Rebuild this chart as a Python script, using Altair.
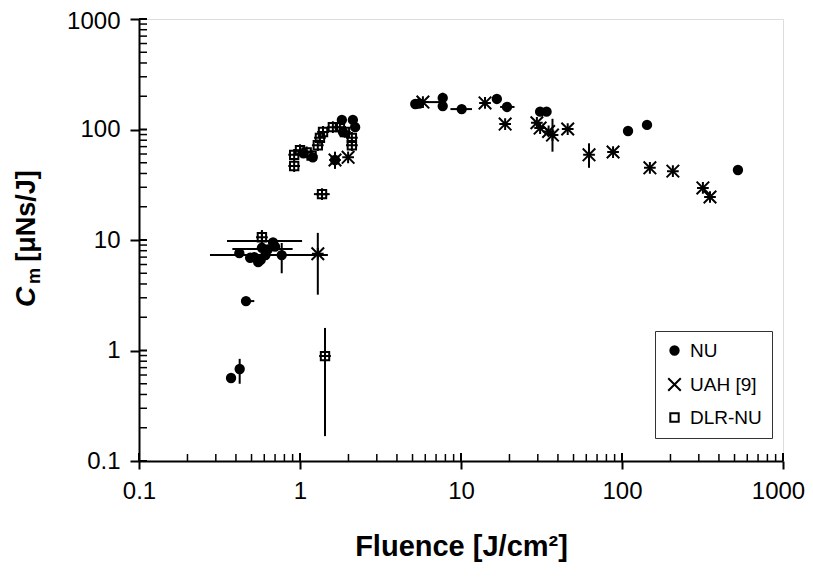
import altair as alt
import pandas as pd

# ---------------- data ----------------
series_names = ["NU", "UAH [9]", "DLR-NU"]

nu_x = [0.373, 0.422, 0.462, 0.42, 0.49, 0.52, 0.55, 0.57, 0.58, 0.61, 0.63, 0.68, 0.70, 0.77,
        1.05, 1.2, 1.65, 1.82, 2.13, 2.2, 1.85,
        5.2, 5.5, 7.7, 7.7, 10.1, 16.7, 19.3, 31, 34, 109, 143, 525]
nu_y = [0.564, 0.68, 2.8, 7.6, 6.9, 7.0, 6.3, 6.6, 8.5, 7.3, 8.2, 9.5, 8.7, 7.3,
        61, 56, 53, 122, 122, 105, 95,
        170, 172, 193, 163, 153, 189, 160, 145, 145, 97, 110, 43]

uah_x = [1.29, 1.65, 1.99, 5.8, 14.1, 18.8, 29.6, 31, 35, 37, 46, 62.4, 88, 149, 207, 318, 352]
uah_y = [7.5, 53, 56, 177, 174, 112, 115, 103, 96, 89, 101, 59, 62.5, 45, 42, 29.6, 24.5]

dlr_x = [0.58, 0.92, 0.92, 1.0, 1.1, 1.18, 1.29, 1.33, 1.39, 1.6, 1.77, 1.9, 2.1, 2.1, 1.37, 1.43]
dlr_y = [10.6, 46.7, 59, 65, 62, 58, 72, 84, 95, 105, 105, 95, 84, 72, 26, 0.89]

# vertical error bars: x, low, high
vbar_x = [0.422, 0.77, 1.29, 1.43, 1.65, 7.7, 37, 62.4, 0.58]
vbar_lo = [0.50, 5.0, 3.2, 0.168, 44, 150, 63, 45, 9.6]
vbar_hi = [0.84, 9.4, 11.6, 1.6, 63, 215, 125, 75, 12.3]

# horizontal error bars: y, low, high
hbar_y = [9.8, 8.3, 7.3, 2.8, 26, 177, 153, 160]
hbar_lo = [0.352, 0.38, 0.276, 0.43, 1.22, 5.8, 8.6, 17.5]
hbar_hi = [1.03, 0.90, 1.49, 0.52, 1.53, 7.6, 11.7, 21.5]

major_ticks = [0.1, 1, 10, 100, 1000]
minor_ticks = [0.2, 0.3, 0.4, 0.5, 0.6, 0.7, 0.8, 0.9,
               2, 3, 4, 5, 6, 7, 8, 9,
               20, 30, 40, 50, 60, 70, 80, 90,
               200, 300, 400, 500, 600, 700, 800, 900]

# ---------------- tables ----------------
pts = pd.DataFrame({
    "x": nu_x + uah_x + dlr_x,
    "y": nu_y + uah_y + dlr_y,
    "series": ["NU"] * len(nu_x) + ["UAH [9]"] * len(uah_x) + ["DLR-NU"] * len(dlr_x),
})
vbars = pd.DataFrame({"x": vbar_x, "lo": vbar_lo, "hi": vbar_hi})
hbars = pd.DataFrame({"y": hbar_y, "lo": hbar_lo, "hi": hbar_hi})
majors = pd.DataFrame({"v": major_ticks})
minors = pd.DataFrame({"v": minor_ticks})

W, H = 644, 442
FONT = "Liberation Sans"

xs = alt.Scale(type="log", domain=[0.1, 1000], nice=False)
ys = alt.Scale(type="log", domain=[0.1, 1000], nice=False)

x_axis = alt.Axis(values=major_ticks, format="~g", title="Fluence [J/cm²]",
                  titleFontSize=29, titleFont=FONT, titleFontWeight="bold",
                  titleColor="black", titlePadding=29,
                  labelFontSize=24, labelFont=FONT, labelColor="black", labelPadding=10,
                  labelOffset={"condition": {"test": "datum.value >= 1000", "value": -5}, "value": 0},
                  tickSize=8, tickWidth=2, tickColor="black",
                  domainColor="black", domainWidth=2, grid=False, labelFlush=False)
y_axis = alt.Axis(values=major_ticks, format="~g", title=None,
                  labelFontSize=24, labelFont=FONT, labelColor="black", labelPadding=10,
                  labelOffset={"condition": {"test": "datum.value >= 1000", "value": 2}, "value": 0},
                  tickSize=9, tickWidth=2, tickColor="black",
                  domainColor="black", domainWidth=2, grid=False, labelFlush=False)

shape_scale = alt.Scale(domain=series_names,
                        range=["circle", "M-1.5,-1.5L1.5,1.5M-1.5,1.5L1.5,-1.5", "square"])
fill_scale = alt.Scale(domain=series_names, range=["black", "transparent", "transparent"])
stroke_scale = alt.Scale(domain=series_names, range=["black", "black", "black"])
legend = alt.Legend(title=None, orient="none", legendX=516, legendY=312,
                    labelFontSize=19, labelFont=FONT, labelColor="black",
                    strokeColor="#333333", fillColor="white", padding=10,
                    rowPadding=13, symbolStrokeColor="black", symbolStrokeWidth=2,
                    symbolSize=70, labelOffset=6, cornerRadius=0)

points = alt.Chart(pts).mark_point(size=70, strokeWidth=2, opacity=1).encode(
    x=alt.X("x:Q", scale=xs, axis=x_axis),
    y=alt.Y("y:Q", scale=ys, axis=y_axis),
    shape=alt.Shape("series:N", scale=shape_scale, legend=legend),
    fill=alt.Fill("series:N", scale=fill_scale, legend=legend),
    stroke=alt.Stroke("series:N", scale=stroke_scale, legend=legend),
)

plus = alt.Chart(pts).transform_filter(
    alt.datum.series != "NU"
).mark_point(shape="M0,-1.4L0,1.4M-1.4,0L1.4,0", size=70, strokeWidth=2,
             stroke="black", filled=False, opacity=1).encode(
    x=alt.X("x:Q", scale=xs),
    y=alt.Y("y:Q", scale=ys),
)

vrules = alt.Chart(vbars).mark_rule(color="black", strokeWidth=2).encode(
    x=alt.X("x:Q", scale=xs), y=alt.Y("lo:Q", scale=ys), y2="hi:Q")
hrules = alt.Chart(hbars).mark_rule(color="black", strokeWidth=2).encode(
    y=alt.Y("y:Q", scale=ys), x=alt.X("lo:Q", scale=xs), x2="hi:Q")

# inner parts of the ticks
x_major_in = alt.Chart(majors).mark_rule(color="black", strokeWidth=2).encode(
    x=alt.X("v:Q", scale=xs), y=alt.value(H), y2=alt.value(H - 8))
x_minor_in = alt.Chart(minors).mark_rule(color="black", strokeWidth=1.5).encode(
    x=alt.X("v:Q", scale=xs), y=alt.value(H), y2=alt.value(H - 7))
y_major_in = alt.Chart(majors).mark_rule(color="black", strokeWidth=2).encode(
    y=alt.Y("v:Q", scale=ys), x=alt.value(0), x2=alt.value(8))
y_minor_in = alt.Chart(minors).mark_rule(color="black", strokeWidth=1.5).encode(
    y=alt.Y("v:Q", scale=ys), x=alt.value(0), x2=alt.value(8))

# y-axis title built from pieces (C italic, m subscript)
ytitle_c = alt.Chart(majors.head(1)).mark_text(
    text="C", angle=270, font=FONT, fontSize=28, fontWeight="bold", fontStyle="italic",
    align="center", baseline="middle", color="black").encode(
    x=alt.value(-112), y=alt.value(278))
ytitle_m = alt.Chart(majors.head(1)).mark_text(
    text="m", angle=270, font=FONT, fontSize=18, fontWeight="bold",
    align="center", baseline="middle", color="black").encode(
    x=alt.value(-104), y=alt.value(257))
ytitle_u = alt.Chart(majors.head(1)).mark_text(
    text="[μNs/J]", angle=270, font=FONT, fontSize=27, fontWeight="bold",
    align="center", baseline="middle", color="black").encode(
    x=alt.value(-112), y=alt.value(197))

chart = alt.layer(
    x_minor_in, x_major_in, y_minor_in, y_major_in,
    vrules, hrules, points, plus,
    ytitle_c, ytitle_m, ytitle_u,
).properties(
    width=W, height=H,
    autosize=alt.AutoSizeParams(type="none"),
    padding={"left": 131, "top": 11, "right": 22, "bottom": 107},
).configure_view(
    stroke="#a0a0a0", strokeWidth=2
).configure(background="white")

chart.save("out.html", embed_options={"renderer": "svg", "actions": False})
